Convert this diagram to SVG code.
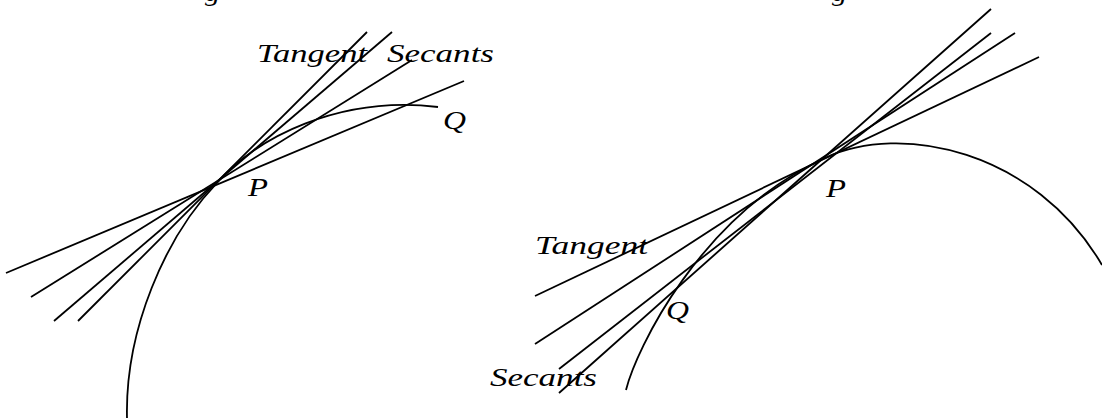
<svg xmlns="http://www.w3.org/2000/svg" width="1102" height="418" viewBox="0 0 1102 418">
<style>
.ln{stroke:#000;stroke-width:1.8;fill:none;stroke-linecap:butt}
.lb{font-family:"Liberation Serif","Times New Roman",serif;font-style:italic;font-size:25px;fill:#000}
</style>
<rect width="1102" height="418" fill="#fff"/>
<g id="captions">
<text class="lb" x="205" y="0.5" textLength="15" lengthAdjust="spacingAndGlyphs">g</text>
<text class="lb" x="832" y="0.5" textLength="15" lengthAdjust="spacingAndGlyphs">g</text>
</g>
<g id="left-curve"><path class="ln" d="M127,418 C125,330 165,237 217,183 C255,138 340,95 438,107"/></g>
<g id="right-curve"><path class="ln" d="M626,390 C636,350 700,215 825,158 C900,122 1035,150 1102,265"/></g>
<g id="connectors">
<line class="ln" x1="464" y1="81" x2="6" y2="273"/>
<line class="ln" x1="412" y1="60" x2="31" y2="297"/>
<line class="ln" x1="392" y1="32" x2="54" y2="321"/>
<line class="ln" x1="367" y1="32" x2="78" y2="321"/>
<line class="ln" x1="1039" y1="57" x2="535" y2="296"/>
<line class="ln" x1="1015" y1="33" x2="535" y2="344"/>
<line class="ln" x1="991" y1="33" x2="559" y2="369"/>
<line class="ln" x1="991" y1="9" x2="559" y2="393"/>
</g>
<g id="left-labels">
<text class="lb" x="257" y="62" textLength="110" lengthAdjust="spacingAndGlyphs">Tangent</text>
<text class="lb" x="387" y="62" textLength="107" lengthAdjust="spacingAndGlyphs">Secants</text>
<text class="lb" x="248" y="196" textLength="20" lengthAdjust="spacingAndGlyphs">P</text>
<text class="lb" x="443" y="129" textLength="23" lengthAdjust="spacingAndGlyphs">Q</text>
</g>
<g id="right-labels">
<text class="lb" x="535" y="254" textLength="113" lengthAdjust="spacingAndGlyphs">Tangent</text>
<text class="lb" x="490" y="386" textLength="107" lengthAdjust="spacingAndGlyphs">Secants</text>
<text class="lb" x="826" y="197" textLength="20" lengthAdjust="spacingAndGlyphs">P</text>
<text class="lb" x="666" y="319" textLength="23" lengthAdjust="spacingAndGlyphs">Q</text>
</g>
</svg>
